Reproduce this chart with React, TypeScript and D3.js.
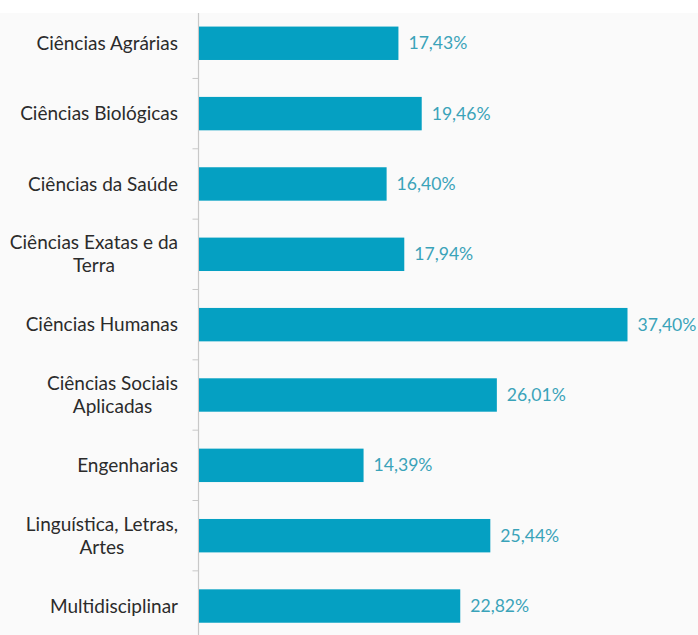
import React from "react";
import * as d3 from "d3";

const categories = [
  ["Ciências Agrárias"],
  ["Ciências Biológicas"],
  ["Ciências da Saúde"],
  ["Ciências Exatas e da", "Terra"],
  ["Ciências Humanas"],
  ["Ciências Sociais", "Aplicadas"],
  ["Engenharias"],
  ["Linguística, Letras,", "Artes"],
  ["Multidisciplinar"],
];
const values = [17.43, 19.46, 16.4, 17.94, 37.4, 26.01, 14.39, 25.44, 22.82];
const labels = ["17,43%", "19,46%", "16,40%", "17,94%", "37,40%", "26,01%", "14,39%", "25,44%", "22,82%"];

let ctx: CanvasRenderingContext2D | null = null;
function measure(s: string, font: string) {
  if (!ctx) ctx = document.createElement("canvas").getContext("2d");
  if (!ctx) return s.length * 9;
  ctx.font = font;
  return ctx.measureText(s).width;
}

export default function App() {
  const W = 698, H = 635;
  const x0 = 198.5;
  const ids = categories.map((_, i) => String(i));
  const y = d3.scaleBand<string>().domain(ids).range([8.1, 641.2]).paddingInner(0.525).paddingOuter(0.2625);
  const step = y.step();
  const x = d3.scaleLinear().domain([0, 37.4]).range([x0, 627.5]);
  const font = "Lato, 'Open Sans', sans-serif";
  const labelRight = 178;
  return (
    <svg width={W} height={H} style={{ position: "absolute", left: 0, top: 0 }} fontFamily={font}>
      <rect x={0} y={0} width={W} height={H} fill="#ffffff" />
      <rect x={0} y={13} width={W} height={H - 13} fill="#fafafa" />
      {ids.map((id, i) => {
        const b0 = 8.1 + i * step;
        return i > 0 ? <line key={"t" + i} x1={x0 - 6} x2={x0} y1={b0} y2={b0} stroke="#c8c8c8" strokeWidth={1} /> : null;
      })}
      <line x1={x0} x2={x0} y1={13} y2={H} stroke="#c8c8c8" strokeWidth={1.2} />
      {values.map((v, i) => {
        const yy = y(String(i))!;
        const bw = y.bandwidth();
        const cy = yy + bw / 2;
        const lines = categories[i];
        const lh = 23;
        const maxW = Math.max(...lines.map((l) => measure(l, "19px Lato")));
        const cx = labelRight - maxW / 2;
        return (
          <g key={i}>
            <rect x={x0 + 0.5} y={yy} width={x(v) - x0 - 0.5} height={bw} fill="#05a0c2" />
            <text x={x(v) + 10} y={cy} dy="0.35em" fontSize={17.6} fill="#3aa3b9">{labels[i]}</text>
            {lines.map((ln, k) => (
              <text key={k} x={lines.length > 1 ? cx : labelRight} y={cy + (k - (lines.length - 1) / 2) * lh} dy="0.35em" textAnchor={lines.length > 1 ? "middle" : "end"} fontSize={19} fill="#2b2b2b">{ln}</text>
            ))}
          </g>
        );
      })}
    </svg>
  );
}
